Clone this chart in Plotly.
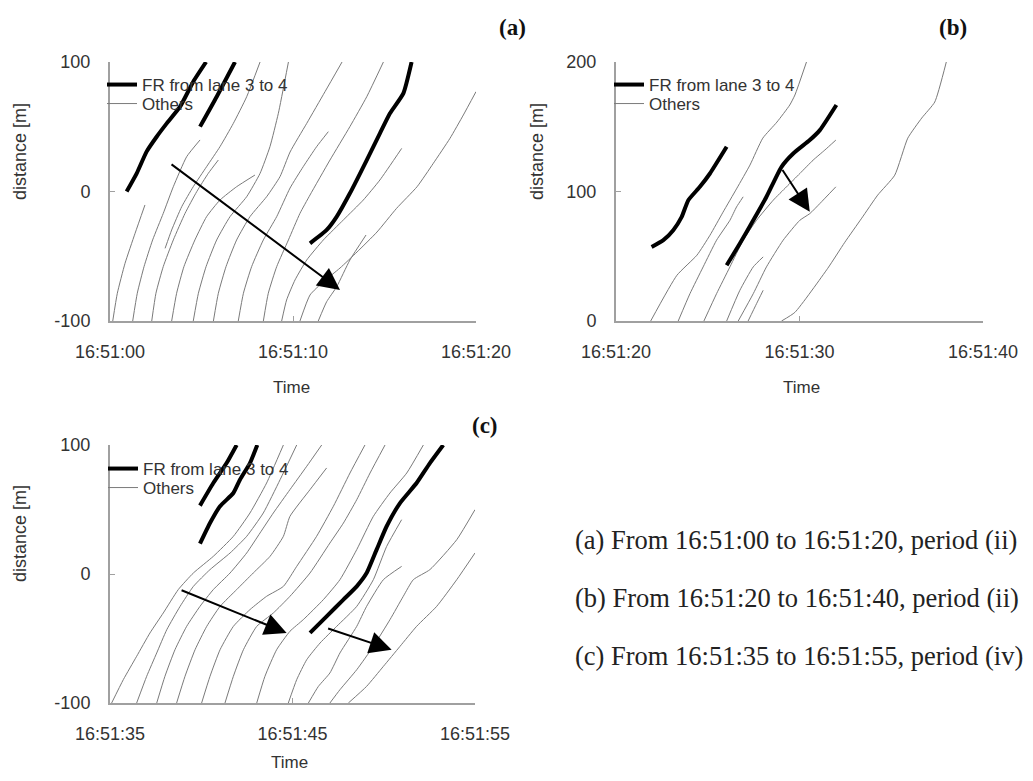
import plotly.graph_objects as go

# ---------------- data (time in seconds from panel start, distance in m) ----------------
A_TICKVALS = [0, 10, 20]
A_TICKTEXT = ["16:51:00", "16:51:10", "16:51:20"]
B_TICKVALS = [0, 10, 20]
B_TICKTEXT = ["16:51:20", "16:51:30", "16:51:40"]
C_TICKVALS = [0, 10, 20]
C_TICKTEXT = ["16:51:35", "16:51:45", "16:51:55"]
A_YTICKS = [-100, 0, 100]
A_YTEXT = ["-100", "0", "100"]
B_YTICKS = [0, 100, 200]
B_YTEXT = ["0", "100", "200"]
C_YTICKS = [-100, 0, 100]
C_YTEXT = ["-100", "0", "100"]

# panel (a)
A_THIN_T = [
    [0.15, 0.40, 0.82, 1.37, 1.91],
    [1.24, 1.49, 1.86, 2.33, 2.91, 3.46, 4.19, 4.92],
    [2.28, 2.51, 2.91, 3.46, 4.10, 4.74, 5.37, 5.92],
    [3.01, 3.37, 3.92, 4.55, 5.28, 6.01, 6.74, 7.47, 8.20],
    [3.37, 3.64, 4.04, 4.64, 5.28, 6.01, 6.92, 7.92],
    [4.55, 4.83, 5.25, 5.83, 6.56, 7.47, 8.20, 8.74, 9.20, 9.75],
    [5.65, 5.92, 6.34, 6.92, 7.65, 8.56, 9.29, 9.84, 10.75, 11.75, 12.68],
    [7.01, 7.29, 7.74, 8.38, 9.11, 9.84, 10.56, 11.29, 11.93],
    [8.38, 8.65, 9.11, 9.75, 10.38, 10.93, 12.02, 13.11, 14.03, 14.94],
    [9.38, 9.65, 10.11, 10.75, 11.66, 12.75, 13.84, 14.75, 15.94],
    [10.38, 10.93, 11.64, 12.57, 13.50, 14.59, 15.66, 16.78, 17.67, 18.58, 19.31, 20.0],
    [11.38, 11.84, 12.39, 13.11, 13.99],
]
A_THIN_D = [
    [-100, -78.6, -55.5, -32.3, -10.4],
    [-100, -78.6, -58.0, -37.4, -16.9, 3.7, 26.9, 39.8],
    [-100, -78.6, -58.0, -37.4, -16.9, -0.1, 14.0, 24.3],
    [-43.9, -29.7, -11.7, 3.7, 19.2, 34.6, 52.6, 73.2, 100],
    [-100, -78.6, -58.0, -37.4, -19.4, -6.6, 3.7, 12.7],
    [-100, -78.6, -58.0, -37.4, -19.4, -4.0, 14.0, 34.6, 60.4, 100],
    [-100, -78.6, -58.0, -37.4, -19.4, -4.0, 11.5, 30.5, 52.6, 77.1, 100],
    [-100, -78.6, -58.0, -37.4, -19.4, 2.7, 19.2, 34.6, 46.2],
    [-100, -78.6, -58.0, -37.4, -16.9, -2.7, 24.3, 50.1, 73.2, 100],
    [-100, -83.8, -68.3, -52.9, -37.4, -22.0, -6.6, 8.9, 33.3],
    [-100, -79.9, -69.9, -59.1, -46.7, -31.3, -13.0, 3.7, 21.8, 41.1, 59.1, 77.1],
    [-100, -85.1, -73.5, -52.9, -33.6],
]
A_THICK_T = [
    [0.91, 1.46, 2.00, 2.55, 3.10, 3.83, 4.55, 5.25],
    [4.92, 5.83, 6.83],
    [10.93, 11.84, 12.39, 13.11, 14.03, 14.75, 15.30, 16.03, 16.48],
]
A_THICK_D = [
    [0, 14.0, 30.8, 42.3, 52.6, 65.5, 84.8, 100],
    [50.1, 73.2, 100],
    [-40, -29.7, -19.4, -1.4, 24.3, 44.9, 60.4, 75.8, 100],
]
# arrows: tail_t, tail_d, head_t, head_d
A_ARROWS = [(3.28, 21.8, 12.57, -76.0)]

# panel (b)
B_THIN_T = [
    [1.89, 3.32, 4.41, 5.12, 5.83, 6.59, 7.30, 8.00, 8.77, 9.47, 9.75, 10.38],
    [3.39, 4.03, 4.75, 5.48, 6.21, 6.57, 6.93],
    [4.79, 5.48, 6.21, 6.93, 7.66, 8.57, 9.29, 10.02, 10.74, 11.38, 11.98],
    [6.03, 6.75, 7.48, 8.02],
    [6.66, 7.48, 8.20, 9.11, 10.02, 10.56, 11.11, 11.98],
    [7.20, 7.66, 8.02],
    [9.02, 9.75, 11.54, 12.47, 13.39, 14.26, 15.19, 15.90, 16.66, 17.37, 18.0],
]
B_THIN_D = [
    [0, 35.3, 50.8, 66.2, 84.0, 102.6, 120.4, 141.2, 153.6, 166.8, 174.5, 200],
    [0, 21.1, 41.8, 62.4, 77.8, 88.1, 95.9],
    [0, 21.1, 41.8, 62.4, 77.8, 93.3, 103.6, 113.9, 124.2, 132.0, 139.7],
    [0, 23.7, 41.8, 49.5],
    [0, 21.1, 41.8, 62.4, 77.8, 82.9, 90.7, 103.6],
    [0, 13.4, 23.7],
    [0, 6.7, 40.7, 60.8, 79.4, 97.2, 112.6, 141.2, 156.7, 169.1, 200],
]
B_THICK_T = [
    [1.94, 2.58, 3.12, 3.58, 3.94, 4.57, 5.12, 6.03],
    [6.03, 6.75, 7.48, 8.20, 9.02, 9.66, 10.56, 11.11, 12.01],
]
B_THICK_D = [
    [57.2, 62.4, 70.1, 80.4, 93.3, 103.6, 113.9, 134.5],
    [43.0, 59.8, 77.8, 95.9, 119.1, 129.4, 139.7, 147.4, 166.8],
]
B_ARROWS = [(9.02, 117.8, 10.56, 84.3)]

# panel (c)
C_THIN_T = [
    [0.09, 0.73, 1.46, 2.19, 2.92, 3.74, 4.57, 5.66, 6.76, 7.67, 8.58, 9.50],
    [1.46, 2.01, 2.56, 3.11, 3.84, 4.57, 5.48, 6.58, 7.49, 8.40, 9.32, 10.23],
    [2.56, 3.01, 3.56, 4.20, 4.93, 5.66, 6.58, 7.49, 8.22, 8.95, 9.86, 10.78, 11.60],
    [3.65, 4.11, 4.66, 5.30, 6.03, 6.94, 7.85, 8.77, 9.50, 9.86, 10.96, 11.87],
    [5.02, 5.48, 6.03, 6.76, 7.67, 8.58, 9.50, 10.23, 11.32, 12.24, 13.15, 13.97],
    [6.30, 6.76, 7.31, 8.04, 8.95, 9.86, 10.96, 12.05, 12.79, 13.52, 14.25, 15.07],
    [8.04, 8.49, 9.13, 9.86, 10.59, 11.69, 12.60, 13.52, 14.43, 15.34, 16.26, 17.17],
    [9.77, 10.23, 10.78, 11.51, 12.42, 13.52, 14.43, 15.16, 15.98],
    [10.87, 11.42, 12.05, 12.60, 13.52, 14.06, 14.98, 15.98],
    [12.05, 12.60, 13.52, 14.43, 15.34, 16.07, 16.62, 17.53, 19.00, 20.0],
    [13.06, 14.06, 14.98, 15.89, 16.80, 17.90, 19.00, 20.0],
]
C_THIN_D = [
    [-100, -81.9, -63.8, -45.7, -30.2, -12.1, 0.8, 13.7, 29.2, 47.3, 70.5, 100],
    [-100, -79.3, -61.2, -43.2, -25.1, -9.6, 3.4, 16.3, 29.2, 47.3, 73.1, 100],
    [-100, -79.3, -58.7, -40.6, -25.1, -12.1, 0.8, 16.3, 31.8, 47.3, 65.4, 83.5, 100],
    [-100, -79.3, -58.7, -40.6, -25.1, -12.1, 0.8, 13.7, 29.2, 44.7, 65.4, 82.2],
    [-100, -79.3, -58.7, -40.6, -27.6, -17.3, -9.6, 5.9, 29.2, 52.5, 78.3, 100],
    [-100, -79.3, -58.7, -40.6, -30.2, -17.3, 0.8, 24.0, 39.5, 57.6, 78.3, 100],
    [-100, -79.3, -58.7, -44.4, -35.4, -19.9, -4.4, 18.9, 44.7, 62.8, 78.3, 100],
    [-100, -81.9, -66.4, -53.5, -40.6, -25.1, -4.4, 21.4, 42.1],
    [-100, -87.1, -76.7, -61.2, -40.6, -25.1, -4.4, 5.9],
    [-100, -89.7, -74.2, -56.1, -35.4, -17.3, -4.4, 3.4, 26.6, 49.9],
    [-100, -87.1, -71.6, -56.1, -40.6, -25.1, -4.4, 16.3],
]
C_THICK_T = [
    [4.93, 5.66, 6.39, 6.94],
    [4.93, 5.48, 6.03, 6.76, 7.12, 7.67, 8.07],
    [10.96, 11.87, 12.79, 13.52, 14.06, 14.61, 15.16, 15.89, 16.80, 17.53, 18.26],
]
C_THICK_D = [
    [53.0, 70.5, 86.0, 100],
    [23.5, 39.5, 52.5, 62.8, 73.1, 86.0, 100],
    [-45.7, -32.8, -19.9, -9.6, 0.7, 18.9, 37.0, 55.0, 70.5, 86.0, 100],
]
C_ARROWS = [(3.84, -12.1, 9.68, -45.7), (11.87, -41.9, 15.43, -58.7)]

LEGEND_NAMES = ["FR from lane 3 to 4", "Others"]
PANEL_LABELS = ["(a)", "(b)", "(c)"]
CAPTIONS = [
    "(a) From 16:51:00 to 16:51:20, period (ii)",
    "(b) From 16:51:20 to 16:51:40, period (ii)",
    "(c) From 16:51:35 to 16:51:55, period (iv)",
]

# ---------------- style / layout ----------------
# the page body has an 8px margin, so the figure is 1017x765 and page pixels are shifted
FW, FH, OFF = 1017, 765, 8
SANS = "Liberation Sans, Arial, sans-serif"
SERIF = "Liberation Serif, Times New Roman, serif"
TXT = "#333333"
THIN_COLOR = "#7a7a7a"
AXIS_COLOR = "#a0a0a0"


def px_x(p):
    return (p - OFF) / FW


def px_y(p):
    return 1 - (p - OFF) / FH


fig = go.Figure()

panels = [
    dict(thin_t=A_THIN_T, thin_d=A_THIN_D, thick_t=A_THICK_T, thick_d=A_THICK_D,
         xa="x", ya="y", legs=("legend", "legend2")),
    dict(thin_t=B_THIN_T, thin_d=B_THIN_D, thick_t=B_THICK_T, thick_d=B_THICK_D,
         xa="x2", ya="y2", legs=("legend3", "legend4")),
    dict(thin_t=C_THIN_T, thin_d=C_THIN_D, thick_t=C_THICK_T, thick_d=C_THICK_D,
         xa="x3", ya="y3", legs=("legend5", "legend6")),
]

for p in panels:
    for i, (t, d) in enumerate(zip(p["thin_t"], p["thin_d"])):
        fig.add_trace(go.Scatter(
            x=t, y=d, mode="lines", name=LEGEND_NAMES[1],
            line=dict(color=THIN_COLOR, width=1, shape="spline", smoothing=0.5),
            xaxis=p["xa"], yaxis=p["ya"], legend=p["legs"][1],
            showlegend=(i == 0), hoverinfo="skip"))
    for i, (t, d) in enumerate(zip(p["thick_t"], p["thick_d"])):
        fig.add_trace(go.Scatter(
            x=t, y=d, mode="lines", name=LEGEND_NAMES[0],
            line=dict(color="black", width=4, shape="spline", smoothing=0.5),
            xaxis=p["xa"], yaxis=p["ya"], legend=p["legs"][0],
            showlegend=(i == 0), hoverinfo="skip"))


def xaxis(domain, anchor, tickvals, ticktext):
    return dict(domain=domain, anchor=anchor, range=[0, 20], tickvals=tickvals,
                ticktext=ticktext, showline=True, linecolor=AXIS_COLOR, linewidth=2,
                ticks="inside", ticklen=5, tickcolor=AXIS_COLOR, showgrid=False,
                zeroline=False, tickfont=dict(family=SANS, size=18, color=TXT),
                ticklabelstandoff=13, automargin=False, fixedrange=True)


def yaxis(domain, anchor, rng, tickvals, ticktext):
    return dict(domain=domain, anchor=anchor, range=rng, tickvals=tickvals,
                ticktext=ticktext, showline=True, linecolor=AXIS_COLOR, linewidth=2,
                ticks="inside", ticklen=5, tickcolor=AXIS_COLOR, showgrid=False,
                zeroline=False, tickfont=dict(family=SANS, size=18, color=TXT),
                ticklabelstandoff=14, automargin=False, fixedrange=True)


dom_ax = [px_x(110), px_x(476)]
dom_bx = [px_x(616), px_x(983)]
dom_cx = [px_x(110), px_x(475)]
dom_ay = [px_y(321), px_y(62)]
dom_cy = [px_y(703), px_y(445)]

legend_style = dict(xanchor="left", yanchor="top", bgcolor="rgba(0,0,0,0)",
                    font=dict(family=SANS, size=17, color=TXT), itemwidth=30,
                    tracegroupgap=0)

fig.update_layout(
    width=FW, height=FH, margin=dict(l=0, r=0, t=0, b=0, autoexpand=False),
    paper_bgcolor="white", plot_bgcolor="white",
    xaxis=xaxis(dom_ax, "y", A_TICKVALS, A_TICKTEXT),
    yaxis=yaxis(dom_ay, "x", [-100, 100], A_YTICKS, A_YTEXT),
    xaxis2=xaxis(dom_bx, "y2", B_TICKVALS, B_TICKTEXT),
    yaxis2=yaxis(dom_ay, "x2", [0, 200], B_YTICKS, B_YTEXT),
    xaxis3=xaxis(dom_cx, "y3", C_TICKVALS, C_TICKTEXT),
    yaxis3=yaxis(dom_cy, "x3", [-100, 100], C_YTICKS, C_YTEXT),
    legend=dict(x=px_x(102), y=px_y(67), **legend_style),
    legend2=dict(x=px_x(102), y=px_y(86), **legend_style),
    legend3=dict(x=px_x(609), y=px_y(67), **legend_style),
    legend4=dict(x=px_x(609), y=px_y(86), **legend_style),
    legend5=dict(x=px_x(103), y=px_y(451), **legend_style),
    legend6=dict(x=px_x(103), y=px_y(470), **legend_style),
    showlegend=True,
)

ann = []
for arrows, xr, yr in [(A_ARROWS, "x", "y"), (B_ARROWS, "x2", "y2"), (C_ARROWS, "x3", "y3")]:
    for (tt, td, ht, hd) in arrows:
        ann.append(dict(x=ht, y=hd, ax=tt, ay=td, xref=xr, yref=yr, axref=xr, ayref=yr,
                        text="", showarrow=True, arrowhead=2, arrowsize=2.2,
                        arrowwidth=2, arrowcolor="black"))


def label(x, y, text, font, angle=0, xanchor="center"):
    return dict(x=px_x(x), y=px_y(y), xref="paper", yref="paper", text=text,
                showarrow=False, textangle=angle, xanchor=xanchor, yanchor="middle",
                font=font)


for (x, y) in [(291, 387), (801, 387), (289, 762)]:
    ann.append(label(x, y, "Time", dict(family=SANS, size=17, color=TXT)))
for (x, y) in [(20, 152), (537, 152), (20, 534)]:
    ann.append(label(x, y, "distance [m]", dict(family=SANS, size=18, color=TXT), angle=-90))

for lab, (x, y) in zip(PANEL_LABELS, [(512, 27), (953, 27), (485, 426)]):
    ann.append(label(x, y, "<b>%s</b>" % lab, dict(family=SERIF, size=23, color="#111111")))

for cap, y in zip(CAPTIONS, [540, 598, 656]):
    ann.append(label(573, y, cap, dict(family=SERIF, size=26.5, color="#222222"), xanchor="left"))

fig.update_layout(annotations=ann)

fig.write_html("out.html")
